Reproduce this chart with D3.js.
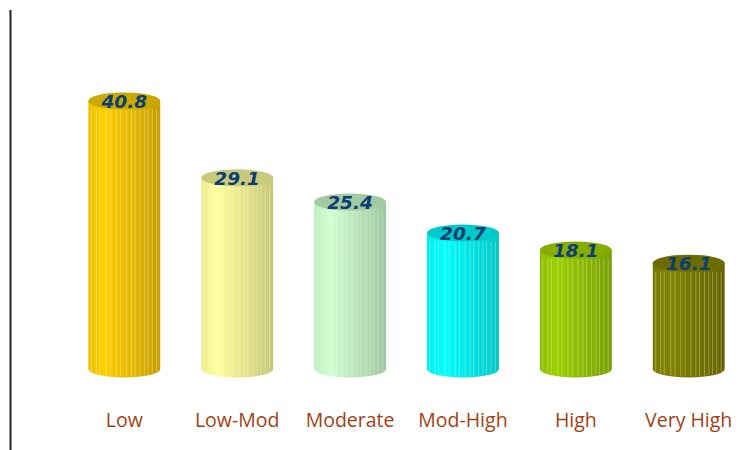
<!DOCTYPE html>
<html>
<head>
<meta charset="utf-8">
<script src="https://cdn.jsdelivr.net/npm/d3@7"></script>
<style>
  body { margin: 0; background: #fff; }
  svg { display: block; }
</style>
</head>
<body>
<svg id="chart" width="741" height="450"></svg>
<script>
const categories = ["Low", "Low-Mod", "Moderate", "Mod-High", "High", "Very High"];
const values = [40.8, 29.1, 25.4, 20.7, 18.1, 16.1];
const colors = ["#ffcc00", "#ffff99", "#ccffcc", "#00ffff", "#99cc00", "#808000"];
const topColors = ["#c9a900", "#c9c97d", "#a2c9a2", "#00c9c9", "#86ad00", "#6b6b00"];

const width = 741, height = 450;
const baseY = 369;
const ry = 8.5;

const svg = d3.select("#chart");
const defs = svg.append("defs");

const x = d3.scaleBand()
    .domain(categories)
    .range([68, 745])
    .paddingInner(0.363)
    .paddingOuter(0.18);

const y = d3.scaleLinear()
    .domain([0, 50])
    .range([baseY, baseY - 50 * 6.57]);

// vertical axis line
svg.append("line")
    .attr("x1", 10.5).attr("x2", 10.5)
    .attr("y1", 10).attr("y2", height)
    .attr("stroke", "#222")
    .attr("stroke-width", 2);

// gradients for the bodies
categories.forEach((c, i) => {
  const base = d3.color(colors[i]);
  const g = defs.append("linearGradient")
      .attr("id", "grad" + i)
      .attr("x1", "0%").attr("x2", "100%")
      .attr("y1", "0%").attr("y2", "0%");
  g.append("stop").attr("offset", "0%").attr("stop-color", base.darker(0.2));
  g.append("stop").attr("offset", "22%").attr("stop-color", base.brighter(0.05));
  g.append("stop").attr("offset", "100%").attr("stop-color", base.darker(0.7));
});

const bars = svg.append("g").selectAll("g")
  .data(categories.map((c, i) => ({c, v: values[i], i})))
  .join("g");

bars.append("path")
    .attr("d", d => {
      const x0 = x(d.c), x1 = x(d.c) + x.bandwidth(), yt = y(d.v);
      return `M${x0},${yt} L${x0},${baseY} A${x.bandwidth() / 2},${ry} 0 0 0 ${x1},${baseY} L${x1},${yt} Z`;
    })
    .attr("fill", d => `url(#grad${d.i})`);

// thin vertical stripes on the body
const stripeOffsets = [0.04, 0.11, 0.16, 0.25, 0.31, 0.39, 0.45, 0.53, 0.6, 0.65, 0.72, 0.78, 0.83, 0.89, 0.95];
bars.each(function(d) {
  const g = d3.select(this);
  const rx = x.bandwidth() / 2, cx = x(d.c) + rx;
  g.selectAll("line.stripe")
    .data(stripeOffsets)
    .join("line")
      .attr("class", "stripe")
      .attr("x1", t => x(d.c) + t * x.bandwidth())
      .attr("x2", t => x(d.c) + t * x.bandwidth())
      .attr("y1", y(d.v) + ry)
      .attr("y2", t => {
        const dx = (x(d.c) + t * x.bandwidth() - cx) / rx;
        return baseY + ry * Math.sqrt(Math.max(0, 1 - dx * dx)) - 1;
      })
      .attr("stroke", "#ffffff")
      .attr("stroke-opacity", 0.35)
      .attr("stroke-width", 0.9);
});

bars.append("ellipse")
    .attr("cx", d => x(d.c) + x.bandwidth() / 2)
    .attr("cy", d => y(d.v))
    .attr("rx", x.bandwidth() / 2)
    .attr("ry", ry)
    .attr("fill", d => topColors[d.i]);

bars.append("text")
    .attr("x", d => x(d.c) + x.bandwidth() / 2)
    .attr("y", d => y(d.v) + 7)
    .attr("text-anchor", "middle")
    .attr("font-family", "'DejaVu Sans', sans-serif")
    .attr("font-size", 18.5)
    .attr("font-weight", "bold")
    .attr("font-style", "italic")
    .attr("fill", "#0d3d73")
    .text(d => d.v.toFixed(1));

// category labels
svg.append("g").selectAll("text")
  .data(categories)
  .join("text")
    .attr("x", d => x(d) + x.bandwidth() / 2)
    .attr("y", 427)
    .attr("text-anchor", "middle")
    .attr("font-family", "'Open Sans', sans-serif")
    .attr("font-size", 19.5)
    .attr("fill", "#a33f12")
    .text(d => d);
</script>
</body>
</html>
